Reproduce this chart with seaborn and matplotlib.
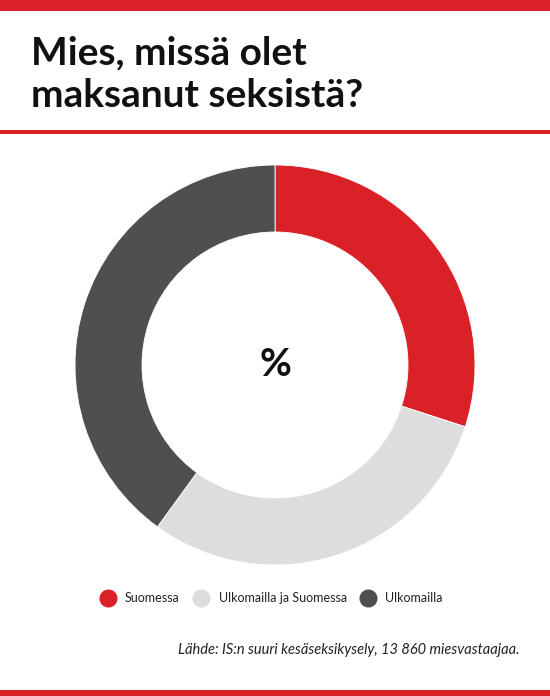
import matplotlib
matplotlib.use('Agg')
import matplotlib.pyplot as plt
import seaborn as sns
from matplotlib.lines import Line2D
from matplotlib.patches import Rectangle

# data
labels = ['Suomessa', 'Ulkomailla ja Suomessa', 'Ulkomailla']
values = [30, 30, 40]
colors = ['#DA2128', '#DDDDDD', '#4F4F4F']

title_lines = ['Mies, missä olet', 'maksanut seksistä?']
source = 'Lähde: IS:n suuri kesäseksikysely, 13 860 miesvastaajaa.'

sns.set_style('white')
plt.rcParams['font.family'] = ['Lato', 'DejaVu Sans']

W, H = 550, 696
fig = plt.figure(figsize=(W / 100, H / 100), dpi=100)

# red bars and divider line
fig.add_artist(Rectangle((0, 1 - 11 / H), 1, 11 / H, transform=fig.transFigure,
                         color='#DA2128', lw=0))
fig.add_artist(Rectangle((0, 1 - 134 / H), 1, 4 / H, transform=fig.transFigure,
                         color='#DA2128', lw=0))
fig.add_artist(Rectangle((0, 0), 1, 6 / H, transform=fig.transFigure,
                         color='#DA2128', lw=0))

for line, base in zip(title_lines, [64, 107]):
    fig.text(31 / W, 1 - base / H, line, ha='left', va='baseline', fontsize=28,
             fontweight='bold', color='#111111')

# donut
ax = fig.add_axes([75 / W, (H - 365 - 200) / H, 400 / W, 400 / H])
ax.pie(values, colors=colors, startangle=90, counterclock=False, radius=1,
       wedgeprops={'width': 0.335, 'edgecolor': 'white', 'linewidth': 0.6})
ax.set_xlim(-1, 1)
ax.set_ylim(-1, 1)
ax.set_aspect('equal')
ax.axis('off')
ax.text(0, 0, '%', ha='center', va='center', fontsize=28, fontweight='bold',
        color='#111111')

handles = [Line2D([], [], marker='o', ls='', markersize=12, markerfacecolor=c,
                  markeredgecolor=c) for c in colors]
fig.legend(handles, labels, loc='center', bbox_to_anchor=(269 / W, 1 - 598 / H),
           ncol=3, frameon=False, fontsize=9, handletextpad=0.4,
           columnspacing=0.7, labelcolor='#222222')

fig.text(520 / W, 1 - 650 / H, source, ha='right', va='center', fontsize=10.5,
         style='italic', color='#222222')

fig.savefig('out.png', dpi=100, facecolor='white')
